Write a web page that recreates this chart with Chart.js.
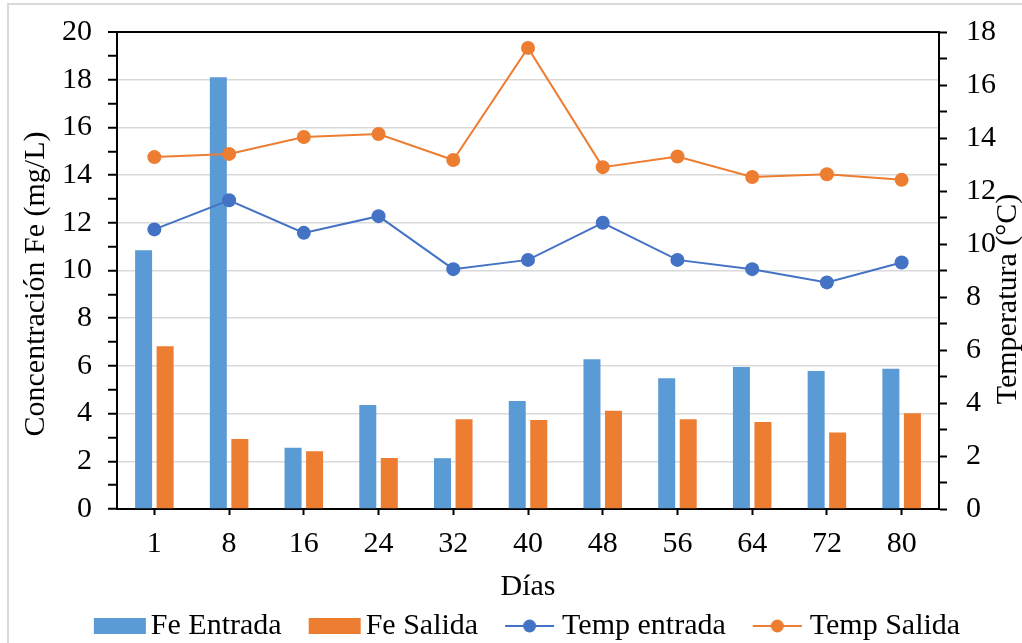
<!DOCTYPE html>
<html>
<head>
<meta charset="utf-8">
<script src="https://cdn.jsdelivr.net/npm/chart.js@4.4.1/dist/chart.umd.min.js"></script>
<style>
  html, body { margin: 0; padding: 0; background: #fff; }
  #wrap { position: relative; width: 1022px; height: 643px; overflow: hidden; }
  #frame { position: absolute; left: 7px; top: 3px; width: 1100px; height: 700px;
           border: 2px solid #d9d9d9; box-sizing: border-box; }
  #c { position: absolute; left: 0; top: 0; }
</style>
</head>
<body>
<div id="wrap">
  <div id="frame"></div>
  <canvas id="c" width="1022" height="643"></canvas>
</div>
<script>
// Sampling days
const dias = ['1', '8', '16', '24', '32', '40', '48', '56', '64', '72', '80'];

// Iron concentration (mg/L)
const feEntrada = [10.85, 18.1, 2.57, 4.36, 2.13, 4.53, 6.28, 5.48, 5.95, 5.79, 5.88];
const feSalida  = [6.82, 2.93, 2.42, 2.14, 3.76, 3.73, 4.12, 3.76, 3.65, 3.21, 4.01];

// Temperature (°C)
const tempEntrada = [10.55, 11.65, 10.42, 11.05, 9.05, 9.4, 10.8, 9.4, 9.05, 8.55, 9.3];
const tempSalida  = [13.28, 13.4, 14.04, 14.15, 13.17, 17.4, 12.9, 13.3, 12.53, 12.63, 12.42];

// Axis ranges and titles
const feRange = [0, 20];
const tempRange = [0, 18];
const tituloFe = 'Concentración Fe (mg/L)';
const tituloTemp = 'Temperatura (°C)';
const tituloDias = 'Días';

const AZUL_BARRA = '#5B9BD5';
const NARANJA = '#ED7D31';
const AZUL_LINEA = '#4472C4';
const FONT = "'Liberation Serif', 'Times New Roman', serif";
const FS = 30;

// Legend swatches: filled box for bars, line with marker for lines.
// Each canvas is 70px wide and centred on the 42px legend box, so the swatch starts at the item's left edge.
function swatchBar(color) {
  const c = document.createElement('canvas');
  c.width = 70; c.height = 18;
  const g = c.getContext('2d');
  g.fillStyle = color;
  g.fillRect(14, 1, 52, 16);
  return c;
}
function swatchLine(color) {
  const c = document.createElement('canvas');
  c.width = 70; c.height = 18;
  const g = c.getContext('2d');
  g.strokeStyle = color; g.lineWidth = 2;
  g.beginPath(); g.moveTo(14, 9); g.lineTo(63, 9); g.stroke();
  g.fillStyle = color;
  g.beginPath(); g.arc(38.5, 9, 6.5, 0, Math.PI * 2); g.fill();
  return c;
}
const swatches = [swatchBar(AZUL_BARRA), swatchBar(NARANJA), swatchLine(AZUL_LINEA), swatchLine(NARANJA)];

// Rotated titles for both vertical axes (reading bottom to top)
const axisTitles = {
  id: 'axisTitles',
  afterDraw(chart) {
    const ctx = chart.ctx;
    ctx.save();
    ctx.fillStyle = '#000';
    ctx.font = FS + 'px ' + FONT;
    ctx.textAlign = 'center';
    ctx.textBaseline = 'middle';
    const draw = (txt, x, y) => {
      ctx.save(); ctx.translate(x, y); ctx.rotate(-Math.PI / 2);
      ctx.fillText(txt, 0, 0); ctx.restore();
    };
    draw(tituloFe, 36, 284);
    draw(tituloTemp, 1008, 299);
    ctx.restore();
  }
};

const evenLabel = (v) => (v % 2 === 0 ? String(v) : '');

// Vertical axes: fixed width, and no extra room reserved for overhanging labels
const fixVertical = (w) => (scale) => {
  scale.width = w;
  scale.paddingTop = 0;
  scale.paddingBottom = 0;
};

new Chart(document.getElementById('c'), {
  data: {
    labels: dias,
    datasets: [
      { type: 'bar', label: 'Fe Entrada', data: feEntrada, backgroundColor: AZUL_BARRA,
        yAxisID: 'y', order: 2, categoryPercentage: 0.576, barPercentage: 0.79 },
      { type: 'bar', label: 'Fe Salida', data: feSalida, backgroundColor: NARANJA,
        yAxisID: 'y', order: 2, categoryPercentage: 0.576, barPercentage: 0.79 },
      { type: 'line', label: 'Temp entrada', data: tempEntrada, borderColor: AZUL_LINEA,
        backgroundColor: AZUL_LINEA, borderWidth: 2, pointRadius: 7, pointHoverRadius: 7,
        pointBorderWidth: 0, yAxisID: 'y1', order: 1, tension: 0 },
      { type: 'line', label: 'Temp Salida', data: tempSalida, borderColor: NARANJA,
        backgroundColor: NARANJA, borderWidth: 2, pointRadius: 7, pointHoverRadius: 7,
        pointBorderWidth: 0, yAxisID: 'y1', order: 1, tension: 0 }
    ]
  },
  options: {
    responsive: false,
    animation: false,
    layout: { padding: { left: 32, right: 0, top: 32, bottom: -8 } },
    plugins: {
      tooltip: { enabled: false },
      legend: {
        position: 'bottom',
        labels: {
          usePointStyle: true,
          pointStyleWidth: 42,
          padding: 27,
          color: '#000',
          font: { family: FONT, size: FS },
          sort: (a, b) => a.datasetIndex - b.datasetIndex,
          generateLabels(chart) {
            const items = Chart.defaults.plugins.legend.labels.generateLabels(chart);
            items.forEach((it) => { it.pointStyle = swatches[it.datasetIndex]; });
            return items;
          }
        }
      }
    },
    scales: {
      x: {
        type: 'category',
        offset: true,
        grid: { display: true, offset: false, drawOnChartArea: false, tickLength: 6,
                tickColor: '#000', tickWidth: 2 },
        border: { display: true, color: '#000', width: 2 },
        ticks: { color: '#000', font: { family: FONT, size: FS }, padding: 11, maxRotation: 0 },
        title: { display: true, text: tituloDias, color: '#000',
                 font: { family: FONT, size: FS, lineHeight: 1 }, padding: { top: 0, bottom: -18 } },
        afterFit(scale) { scale.height = 75; }
      },
      y: {
        type: 'linear', position: 'left', min: feRange[0], max: feRange[1],
        grid: {
          color: (c) => {
            const v = c.tick.value;
            if (v === feRange[1]) return '#000';
            return (v % 2 === 0 && v > 0) ? '#d9d9d9' : 'rgba(0,0,0,0)';
          },
          lineWidth: (c) => (c.tick.value === feRange[1] ? 2 : 1.5),
          tickColor: '#000', tickWidth: 2, tickLength: 9
        },
        border: { display: true, color: '#000', width: 2 },
        ticks: { stepSize: 1, autoSkip: false, maxTicksLimit: 50, padding: 16, color: '#000',
                 font: { family: FONT, size: FS }, callback: evenLabel },
        afterFit: fixVertical(85)
      },
      y1: {
        type: 'linear', position: 'right', min: tempRange[0], max: tempRange[1],
        grid: { drawOnChartArea: false, tickColor: '#000', tickWidth: 2, tickLength: 8 },
        border: { display: true, color: '#000', width: 2 },
        ticks: { stepSize: 1, autoSkip: false, maxTicksLimit: 50, padding: 19, color: '#000',
                 font: { family: FONT, size: FS }, callback: evenLabel },
        afterFit: fixVertical(83)
      }
    }
  },
  plugins: [axisTitles]
});
</script>
</body>
</html>
